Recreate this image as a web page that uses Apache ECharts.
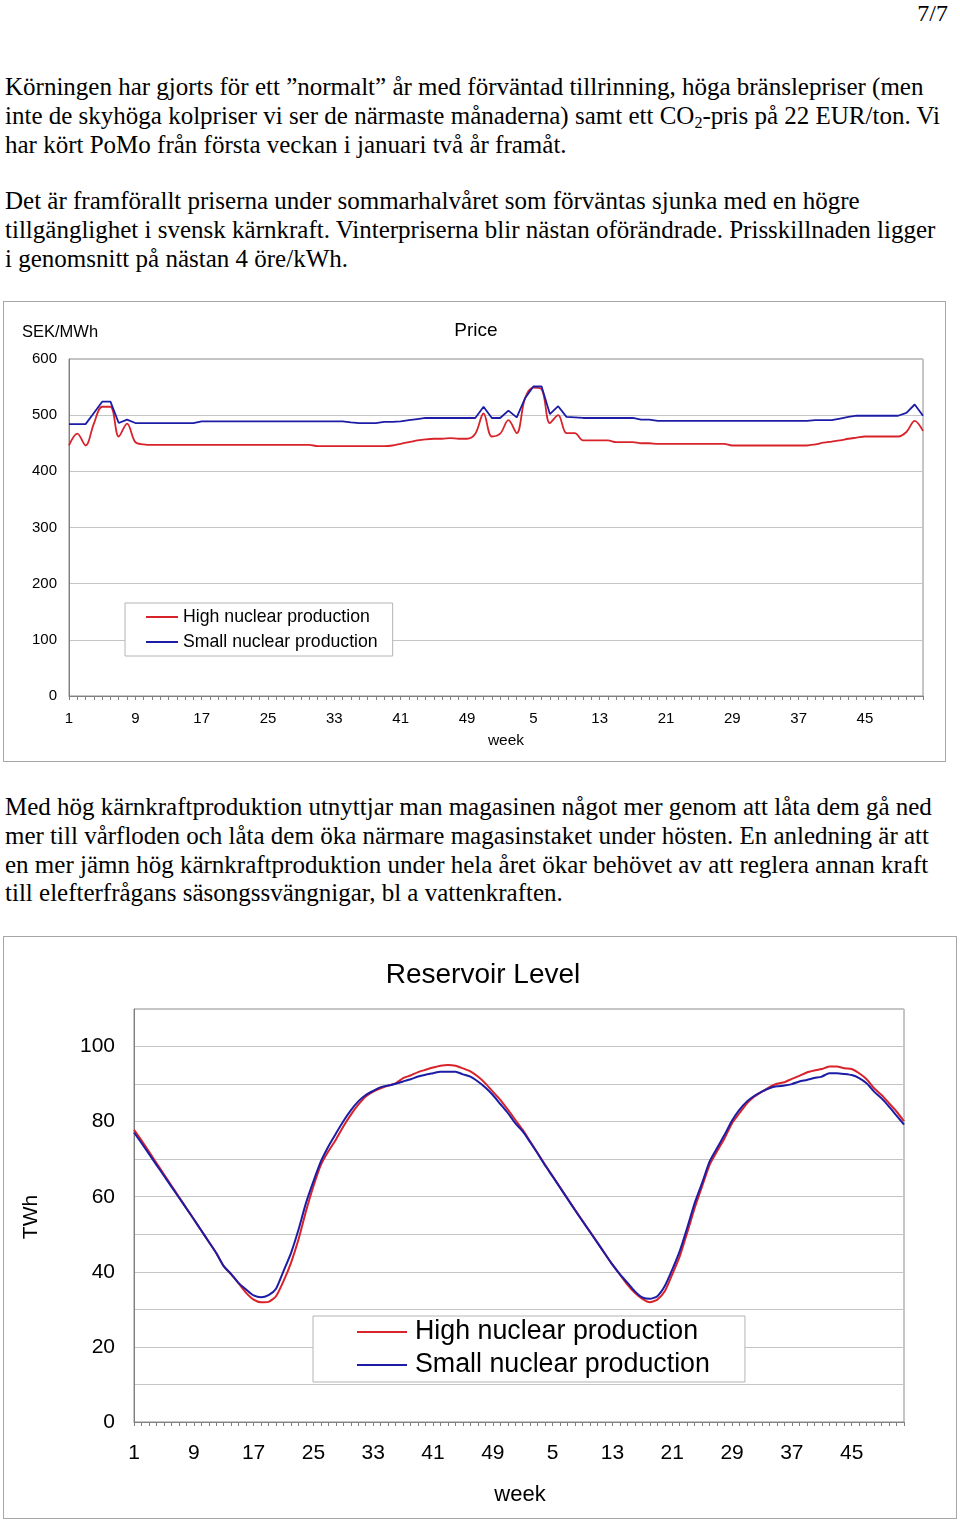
<!DOCTYPE html>
<html><head><meta charset="utf-8">
<script src="https://cdn.jsdelivr.net/npm/echarts@6/dist/echarts.min.js"></script>
<style>
html,body{margin:0;padding:0;background:#fff;}
body{width:960px;height:1524px;position:relative;overflow:hidden;font-family:"Liberation Serif","Times New Roman",serif;color:#000;}
.p{position:absolute;left:5px;font-size:25px;line-height:28.8px;white-space:nowrap;}
.pg{position:absolute;right:12px;top:0px;font-size:24px;line-height:26px;}
.frame{position:absolute;border:1px solid #a6a6a6;box-sizing:border-box;pointer-events:none;}
.chart{position:absolute;}
sub{font-size:16px;vertical-align:-4px;line-height:0;}
</style></head>
<body>
<div class="pg">7/7</div>
<div class="p" style="top:73px">Körningen har gjorts för ett ”normalt” år med förväntad tillrinning, höga bränslepriser (men<br>inte de skyhöga kolpriser vi ser de närmaste månaderna) samt ett CO<sub>2</sub>-pris på 22 EUR/ton. Vi<br>har kört PoMo från första veckan i januari två år framåt.</div>
<div class="p" style="top:187px">Det är framförallt priserna under sommarhalvåret som förväntas sjunka med en högre<br>tillgänglighet i svensk kärnkraft. Vinterpriserna blir nästan oförändrade. Prisskillnaden ligger<br>i genomsnitt på nästan 4 öre/kWh.</div>
<div class="p" style="top:793px">Med hög kärnkraftproduktion utnyttjar man magasinen något mer genom att låta dem gå ned<br>mer till vårfloden och låta dem öka närmare magasinstaket under hösten. En anledning är att<br>en mer jämn hög kärnkraftproduktion under hela året ökar behövet av att reglera annan kraft<br>till elefterfrågans säsongssvängnigar, bl a vattenkraften.</div>

<div id="c1" class="chart" style="left:3px;top:301px;width:943px;height:461px;"></div>
<div class="frame" style="left:3px;top:301px;width:943px;height:461px;"></div>
<div id="c2" class="chart" style="left:3px;top:936px;width:954px;height:583px;"></div>
<div class="frame" style="left:3px;top:936px;width:954px;height:583px;"></div>

<script>
// ---- data ----
const weeks = [1,2,3,4,5,6,7,8,9,10,11,12,13,14,15,16,17,18,19,20,21,22,23,24,25,26,27,28,29,30,31,32,33,34,35,36,37,38,39,40,41,42,43,44,45,46,47,48,49,50,51,52,
               1,2,3,4,5,6,7,8,9,10,11,12,13,14,15,16,17,18,19,20,21,22,23,24,25,26,27,28,29,30,31,32,33,34,35,36,37,38,39,40,41,42,43,44,45,46,47,48,49,50,51,52];
const seriesNames = ['High nuclear production', 'Small nuclear production'];
// Price, SEK/MWh
const priceHigh = [446,467,446,485,515,515,462,485,452,448,
  447,447,447,447,447,447,447,447,447,447,447,447,447,447,447,447,447,447,447,447,
  445,445,445,445,445,445,445,445,445,
  446,449,452,455,457,458,458,459,458,458,467,503,462,
  467,491,468,530,549,546,486,500,468,468,
  455,455,455,455,
  452,452,452,
  450,450,
  449,449,449,449,449,449,449,449,449,
  446,446,446,446,446,446,446,446,446,446,
  448,451,453,455,458,460,462,462,462,462,462,470,490,472];
const priceSmall = [484,484,484,504,524,524,486,492,486,486,
  486,486,486,486,486,486,
  489,489,489,489,489,489,489,489,489,489,489,489,489,489,489,489,489,489,
  487,486,486,486,488,488,489,491,493,
  495,495,495,495,495,495,495,515,495,
  495,508,496,530,551,551,502,516,497,496,
  495,495,495,495,495,495,495,
  492,492,
  490,490,490,490,490,490,490,490,490,490,490,490,490,490,490,490,490,490,490,
  491,491,491,494,497,499,499,499,499,499,499,504,519,499];
// Reservoir level, TWh
const resHigh = [77.8,75.0,72.0,69.0,66.0,63.0,60.0,57.0,54.0,51.0,48.0,45.0,41.5,39.3,36.9,
  34.4,32.6,31.9,32.0,33.5,37.5,42.4,48.6,56.1,62.8,68.5,72.1,75.2,78.7,81.8,84.5,86.7,
  88.0,88.9,89.6,90.2,91.6,92.3,93.2,93.8,94.4,94.9,95.1,94.9,94.2,93.4,92.0,90.2,88.0,85.8,83.2,80.5,
  77.8,74.7,71.6,68.5,65.5,62.5,59.5,56.5,53.6,50.7,47.8,44.8,41.9,39.3,
  36.6,34.4,32.8,31.9,32.6,34.8,39.3,44.1,50.4,57.0,62.8,68.5,72.1,75.6,79.6,82.3,84.9,86.7,
  88.0,89.2,90.1,90.5,91.4,92.2,93.1,93.6,94.0,94.7,94.7,94.2,94.0,92.9,91.3,88.9,87.1,84.9,82.7,80.1];
const resSmall = [77.1,74.3,71.4,68.5,65.6,62.7,59.8,56.9,54.0,51.0,48.0,45.0,41.5,39.4,37.0,
  35.3,33.7,33.2,33.8,35.5,40.2,45.0,51.2,58.3,64.1,69.4,73.4,76.8,80.1,83.0,85.4,87.1,
  88.2,89.2,89.6,90.1,90.7,91.3,92.0,92.5,92.9,93.3,93.3,93.3,92.6,92.0,90.7,89.1,87.1,84.7,82.3,79.6,
  77.4,74.5,71.5,68.3,65.4,62.4,59.4,56.4,53.5,50.6,47.7,44.8,41.9,39.3,
  37.1,34.8,33.2,32.8,33.5,36.2,40.6,45.5,51.7,58.3,63.7,69.4,73.0,76.5,80.3,83.2,85.4,86.9,
  88.0,88.9,89.4,89.6,90.0,90.7,91.1,91.6,92.0,92.9,92.9,92.7,92.4,91.6,90.2,88.0,86.2,84.0,81.6,79.2];

// ---- styles ----
const FONT = '"Liberation Sans", Arial, Helvetica, sans-serif';
const RED = '#d8232a';
const BLUE = '#1c1ca6';
const AXIS = '#808080';
const GRIDC = '#c4c4c4';

// ---- chart 1: Price ----
const c1 = echarts.init(document.getElementById('c1'));
c1.setOption({
  animation: false,
  textStyle: { fontFamily: FONT },
  grid: { left: 66, top: 58, right: 23, bottom: 66, show: true, borderColor: '#8c8c8c', borderWidth: 1 },
  xAxis: {
    type: 'category', data: weeks, boundaryGap: false,
    axisLine: { lineStyle: { color: AXIS, width: 1 } },
    axisTick: { show: true, interval: 0, length: 4, lineStyle: { color: AXIS } },
    axisLabel: { interval: 7, color: '#000', fontSize: 15, margin: 15, fontFamily: FONT },
    splitLine: { show: false }
  },
  yAxis: {
    type: 'value', min: 0, max: 600, interval: 100,
    axisLine: { show: true, lineStyle: { color: AXIS } },
    axisTick: { show: false },
    axisLabel: { color: '#000', fontSize: 15, margin: 12, fontFamily: FONT },
    splitLine: { lineStyle: { color: GRIDC, width: 1 } }
  },
  legend: {
    orient: 'vertical', left: 122, top: 302,
    backgroundColor: '#fff', borderColor: '#b4b4b4', borderWidth: 1,
    padding: [4, 15, 4, 21], itemGap: 5, icon: 'rect', itemWidth: 32, itemHeight: 2,
    textStyle: { fontSize: 17.7, lineHeight: 20, color: '#000', fontFamily: FONT },
    data: seriesNames
  },
  series: [
    { name: seriesNames[0], type: 'line', data: priceHigh, smooth: 0.35, showSymbol: false,
      lineStyle: { color: RED, width: 1.8 }, itemStyle: { color: RED }, z: 3 },
    { name: seriesNames[1], type: 'line', data: priceSmall, showSymbol: false,
      lineStyle: { color: BLUE, width: 1.8 }, itemStyle: { color: BLUE }, z: 4 }
  ],
  graphic: [
    { type: 'text', x: 473, y: 30, style: { text: 'Price', font: '19px ' + FONT, fill: '#000', textAlign: 'center', textVerticalAlign: 'middle' } },
    { type: 'text', x: 19, y: 31, style: { text: 'SEK/MWh', font: '16.5px ' + FONT, fill: '#000', textAlign: 'left', textVerticalAlign: 'middle' } },
    { type: 'text', x: 503, y: 440, style: { text: 'week', font: '15.5px ' + FONT, fill: '#000', textAlign: 'center', textVerticalAlign: 'middle' } }
  ]
});

// ---- chart 2: Reservoir Level ----
const c2 = echarts.init(document.getElementById('c2'));
c2.setOption({
  animation: false,
  textStyle: { fontFamily: FONT },
  grid: { left: 131, top: 73, right: 53, bottom: 97, show: true, borderColor: '#8c8c8c', borderWidth: 1 },
  xAxis: {
    type: 'category', data: weeks, boundaryGap: false,
    axisLine: { lineStyle: { color: AXIS, width: 1 } },
    axisTick: { show: true, interval: 0, length: 4, lineStyle: { color: AXIS } },
    axisLabel: { interval: 7, color: '#000', fontSize: 21, margin: 21, fontFamily: FONT },
    splitLine: { show: false }
  },
  yAxis: {
    type: 'value', min: 0, max: 110, interval: 10,
    axisLine: { show: true, lineStyle: { color: AXIS } },
    axisTick: { show: false },
    axisLabel: { color: '#000', fontSize: 21, margin: 19, fontFamily: FONT,
      formatter: v => (v % 20 === 0 && v <= 100) ? String(v) : '' },
    splitLine: { lineStyle: { color: GRIDC, width: 1 } }
  },
  legend: {
    orient: 'vertical', left: 310, top: 380,
    backgroundColor: '#fff', borderColor: '#b4b4b4', borderWidth: 1,
    padding: [2, 35, 3, 44], itemGap: 5, icon: 'rect', itemWidth: 50, itemHeight: 2,
    textStyle: { fontSize: 26.8, lineHeight: 28, color: '#000', fontFamily: FONT, padding: [0, 0, 0, 3] },
    data: seriesNames
  },
  series: [
    { name: seriesNames[0], type: 'line', data: resHigh, smooth: 0.2, showSymbol: false,
      lineStyle: { color: RED, width: 2 }, itemStyle: { color: RED }, z: 3 },
    { name: seriesNames[1], type: 'line', data: resSmall, smooth: 0.2, showSymbol: false,
      lineStyle: { color: BLUE, width: 2 }, itemStyle: { color: BLUE }, z: 4 }
  ],
  graphic: [
    { type: 'text', x: 480, y: 39, style: { text: 'Reservoir Level', font: '28px ' + FONT, fill: '#000', textAlign: 'center', textVerticalAlign: 'middle' } },
    { type: 'text', x: 28, y: 281, rotation: Math.PI / 2, style: { text: 'TWh', font: '21px ' + FONT, fill: '#000', textAlign: 'center', textVerticalAlign: 'middle' } },
    { type: 'text', x: 517, y: 559, style: { text: 'week', font: '22px ' + FONT, fill: '#000', textAlign: 'center', textVerticalAlign: 'middle' } }
  ]
});
</script>
</body></html>
